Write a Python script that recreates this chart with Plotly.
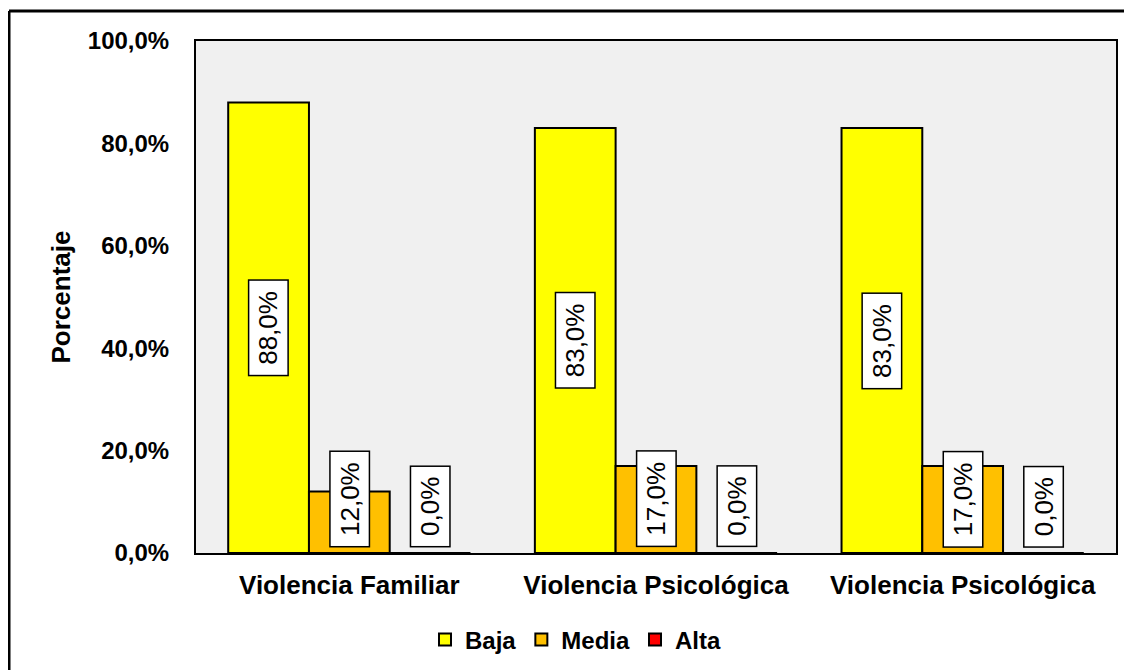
import plotly.graph_objects as go

categories = ["Violencia Familiar", "Violencia Psicológica", "Violencia Psicológica"]
series_names = ["Baja", "Media", "Alta"]
baja = [88.0, 83.0, 83.0]
media = [12.0, 17.0, 17.0]
alta = [0.0, 0.0, 0.0]
y_ticks = [0, 20, 40, 60, 80, 100]

colors = ["#FFFF00", "#FFC000", "#FF0000"]
FONT = "Arial, Liberation Sans, sans-serif"
OFF = 8  # page body margin
W, H = 1132 - OFF, 670 - OFF
ML, MT = 196 - OFF, 41 - OFF
MR = W - (1116 - OFF)
MB = H - (553 - OFF)
plot_w = W - ML - MR
plot_h = H - MT - MB
bargap = 0.21

xs = list(range(len(categories)))
fig = go.Figure()
for name, vals, col in zip(series_names, [baja, media, alta], colors):
    fig.add_trace(go.Bar(
        x=xs, y=vals, name=name,
        marker=dict(color=col, line=dict(color="black", width=2)),
    ))

# data labels (boxed, rotated)
CHAR_W = {"0": 0.556, "1": 0.556, "2": 0.556, "3": 0.556, "4": 0.556, "5": 0.556,
          "6": 0.556, "7": 0.556, "8": 0.556, "9": 0.556, ",": 0.278, "%": 0.889}
LBL_SIZE = 26
n = len(series_names)
bar_w = (1 - bargap) / n
px_per_unit = plot_h / 100.0
gap_px = 7
annotations = []
for j, vals in enumerate([baja, media, alta]):
    for i, v in enumerate(vals):
        txt = f"{v:.1f}%".replace(".", ",")
        tw = sum(CHAR_W.get(c, 0.556) for c in txt) * LBL_SIZE
        box_len = tw + 16
        min_center = (box_len / 2 + 2 + gap_px) / px_per_unit
        yc = max(v / 2.0, min_center)
        annotations.append(dict(
            x=i + (j - (n - 1) / 2) * bar_w, y=yc, xref="x", yref="y",
            text=txt,
            showarrow=False, textangle=-90,
            font=dict(family=FONT, size=LBL_SIZE, color="black"),
            bgcolor="white", bordercolor="black", borderwidth=1.5,
            borderpad=2, width=box_len, height=34,
            xanchor="center", yanchor="middle",
        ))

y_ticktext = [f"{t:.1f}%".replace(".", ",") for t in y_ticks]

def px_x(p):  # page x -> paper x
    return (p - OFF - ML) / plot_w

def px_y(p):  # page y -> paper y
    return (H - MB - (p - OFF)) / plot_h

fig.update_layout(
    width=W, height=H,
    margin=dict(l=ML, r=MR, t=MT, b=MB, autoexpand=False),
    paper_bgcolor="white", plot_bgcolor="#F0F0F0",
    barmode="group", bargap=bargap, bargroupgap=0,
    font=dict(family=FONT, color="black"),
    annotations=annotations,
    showlegend=True,
    legend=dict(
        orientation="h", x=px_x(576), xanchor="center",
        y=px_y(640), yanchor="middle",
        font=dict(family=FONT, size=24, color="black", weight="bold"),
        bgcolor="rgba(0,0,0,0)", itemwidth=30, traceorder="normal",
    ),
    xaxis=dict(
        range=[-0.5, len(categories) - 0.5],
        tickvals=xs, ticktext=categories,
        tickfont=dict(family=FONT, size=26, color="black", weight="bold"),
        showgrid=False, zeroline=False,
        showline=True, linecolor="black", linewidth=2, mirror=True,
        ticks="", ticklabelstandoff=8,
    ),
    yaxis=dict(
        range=[0, 100], tickvals=y_ticks, ticktext=y_ticktext,
        tickfont=dict(family=FONT, size=24, color="black", weight="bold"),
        showgrid=False, zeroline=False,
        showline=True, linecolor="black", linewidth=2, mirror=True,
        ticks="", ticklabelstandoff=20,
        title=dict(text="Porcentaje", standoff=10,
                   font=dict(family=FONT, size=26, color="black", weight="bold")),
    ),
    shapes=[
        dict(type="line", xref="paper", yref="paper",
             x0=px_x(9), x1=px_x(9), y0=px_y(11), y1=px_y(700),
             line=dict(color="black", width=3), layer="below"),
        dict(type="line", xref="paper", yref="paper",
             x0=px_x(9), x1=px_x(1200), y0=px_y(11), y1=px_y(11),
             line=dict(color="black", width=3), layer="below"),
    ],
)

fig.write_html("out.html")
